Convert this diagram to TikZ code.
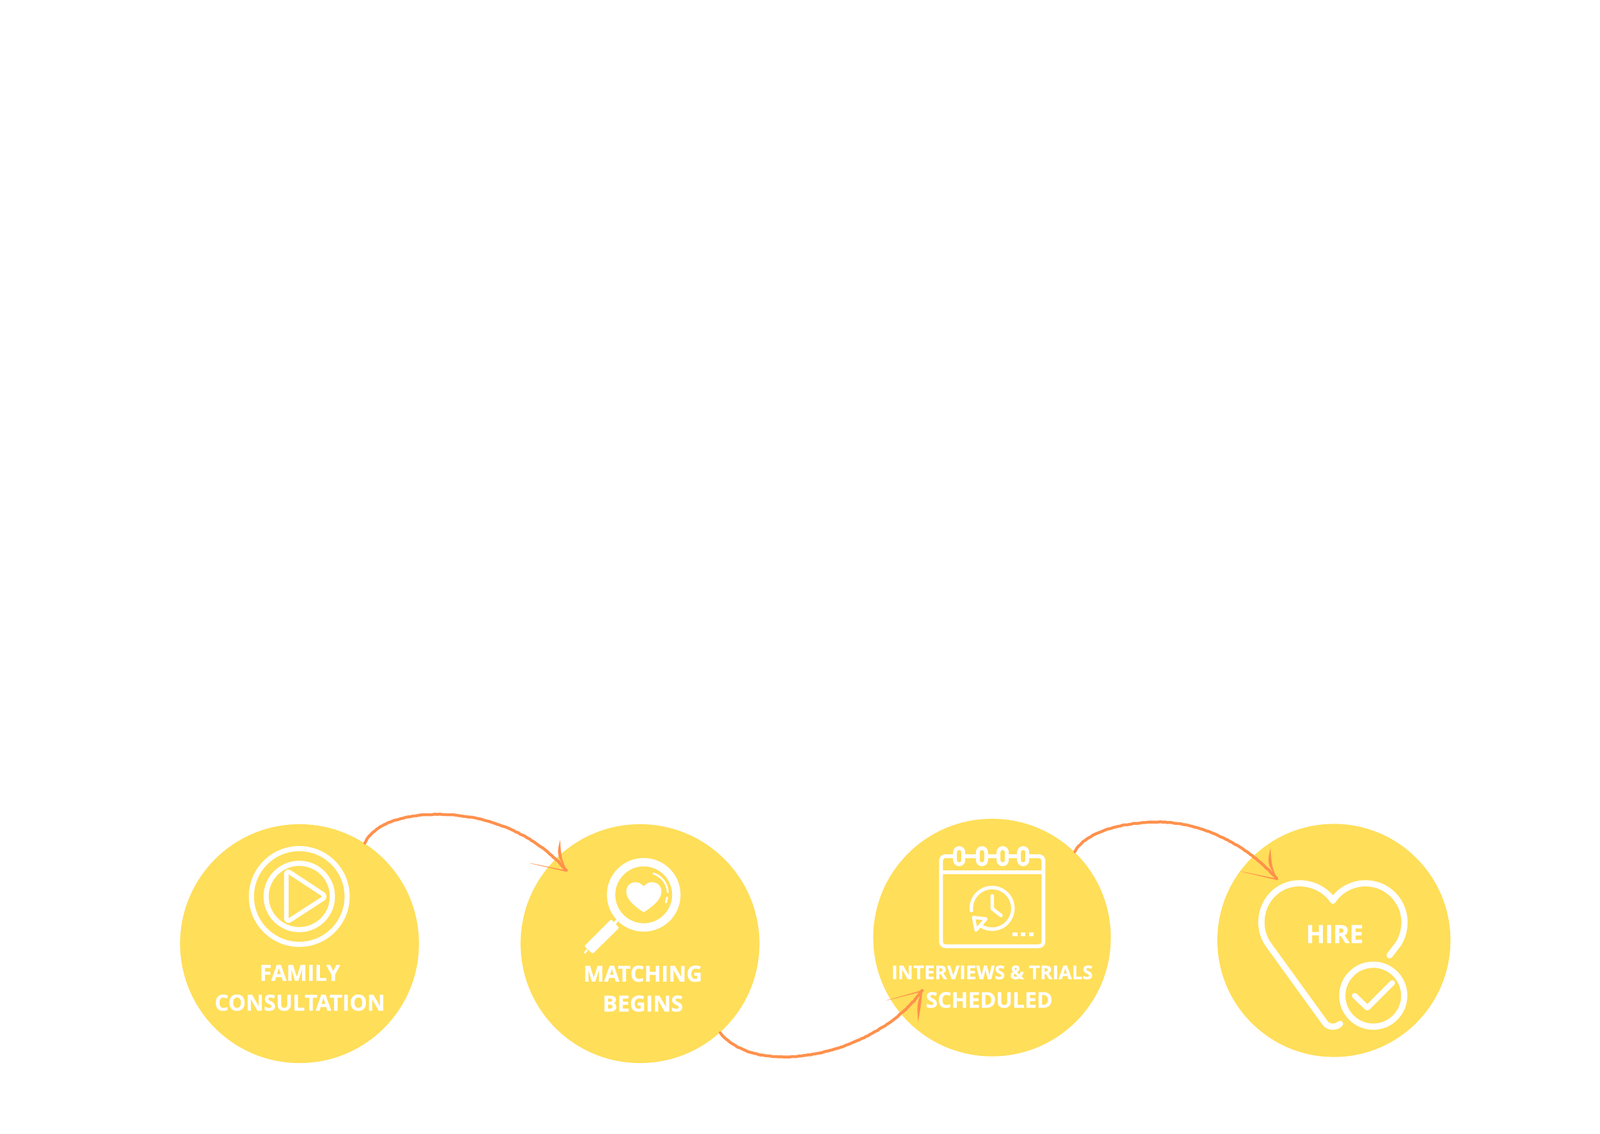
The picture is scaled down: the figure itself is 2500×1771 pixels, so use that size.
\documentclass[tikz,border=0pt]{standalone}
\usepackage{fontspec}
\setmainfont{Open Sans}
\newfontfamily\stepfont{Open Sans}[BoldFeatures={FakeBold=0.8}]
\usetikzlibrary{decorations.pathmorphing}
\definecolor{discyellow}{HTML}{FFDE59}
\definecolor{pencilorange}{HTML}{FF914D}
\tikzset{
  stepdisc/.style={circle,fill=discyellow,inner sep=0pt},
  steptext/.style={text=white,font=\stepfont\bfseries\fontsize{#1}{12}\selectfont,inner sep=0pt},
  steptext/.default=9.8,
  icon/.style={draw=white,line cap=round,line join=round,line width=0.08cm},
  pencil/.style={draw=pencilorange,line width=0.045cm,line cap=round,
    decorate,decoration={random steps,segment length=1pt,amplitude=0.12pt}},
  barb/.style={fill=pencilorange,draw=pencilorange,line width=0.002cm}
}
\newcommand{\barbhead}[5]{%
  \fill[barb] (#1) .. controls +(#4) .. ++(#2) .. controls +(#5) .. (#1);
  \fill[barb] (#1) -- +(#3) -- +(0,1.8) -- cycle;
}
\begin{document}
\begin{tikzpicture}[x=0.01cm,y=-0.01cm]
  \useasboundingbox (0,-1.5) rectangle (2500,1769.5);
  \node[stepdisc,minimum size=3.73cm] (family) at (468,1473) {};
  \node[stepdisc,minimum size=3.73cm] (matching) at (1000,1473) {};
  \node[stepdisc,minimum size=3.71cm] (interviews) at (1550,1463.5) {};
  \node[stepdisc,minimum size=3.64cm] (hire) at (2084.2,1468) {};

  \node[steptext] (familya) at (468.5,1518.7) {FAMILY};
  \node[steptext] (familyb) at (468.5,1565.3) {CONSULTATION};
  \node[steptext] (matchinga) at (1004.5,1520) {MATCHING};
  \node[steptext] (matchingb) at (1004.5,1566.7) {BEGINS};
  \node[steptext=8.4] (interviewsa) at (1550.3,1518) {INTERVIEWS \& TRIALS};
  \node[steptext=9.6] (interviewsb) at (1545.7,1561) {SCHEDULED};
  \node[steptext=11] (hirea) at (2085.5,1458) {HIRE};

  \begin{scope}[icon]
    \draw (467.6,1399.3) circle[radius=74.8];
    \draw (467.6,1399.3) circle[radius=51.8];
    \draw[rounded corners=0.07cm,line width=0.07cm] (447.3,1358) -- (510,1399.3) -- (447.3,1440) -- cycle;
  \end{scope}

  \begin{scope}[icon]
    \draw[line width=0.13cm,line cap=butt] (1005.8,1396.7) circle[radius=51];
    \draw[line width=0.04cm] (964,1437) -- (960,1442);
    \fill[white,rounded corners=0.02cm] (954.9,1435) -- (967.4,1448.3) -- (925.9,1489) -- (913,1476.7) -- cycle;
    \draw[line width=0.03cm] (917,1483) -- (913.8,1487.3);
    \fill[white] (1005.8,1383.3) .. controls (1010,1379) and (1014,1377) .. (1018.8,1377)
      .. controls (1027,1377) and (1033.5,1383) .. (1033.5,1391.7)
      .. controls (1033.5,1405) and (1018,1416) .. (1005.8,1424)
      .. controls (993.6,1416) and (978.6,1405) .. (978.6,1391.7)
      .. controls (978.6,1383) and (985,1377) .. (992.8,1377)
      .. controls (997.6,1377) and (1001.6,1379) .. (1005.8,1383.3) -- cycle;
    \draw[line width=0.03cm] (1021,1363.3) .. controls (1034,1368) and (1043,1379) .. (1043.3,1392.7);
    \draw[line width=0.03cm] (1042.4,1400.7) -- (1040.6,1408.7);
  \end{scope}

  \begin{scope}[icon,line width=0.06cm]
    \draw[rounded corners=0.07cm] (1470.3,1336.3) rectangle (1630.3,1477);
    \draw (1470.3,1361.7) -- (1630.3,1361.7);
    \foreach \ringx in {1498.7,1534.3,1566.7,1598.7}
      \draw[fill=discyellow,rounded corners=0.065cm] (\ringx-6.5,1323.7) rectangle (\ringx+6.5,1349);
    \draw[line width=0.055cm] (1517.8,1421.3) arc[start angle=174,end angle=481,radius=32.5];
    \draw[line width=0.055cm] (1550.3,1398.3) -- (1550.3,1418.3) -- (1564,1429);
    \draw[line width=0.05cm] (1521,1432) -- (1540.7,1434.3) -- (1525,1452) -- cycle;
    \foreach \dotx in {1582.3,1595,1607.7}
      \fill[white] (\dotx,1455) rectangle (\dotx+7.2,1461.7);
  \end{scope}

  \begin{scope}[icon,line width=0.097cm,xshift=0.015cm]
    \draw (2092.4,1598.3) .. controls (2088,1602) and (2085,1602.7) .. (2081.2,1602.7)
      .. controls (2076,1602.7) and (2072,1601) .. (2069.2,1597.3) -- (1980,1474)
      .. controls (1973,1464) and (1969.4,1452) .. (1969.4,1440)
      .. controls (1969.4,1406) and (1995,1378.7) .. (2028.8,1378.7)
      .. controls (2050,1378.7) and (2070,1389) .. (2081.2,1405.7)
      .. controls (2092,1389) and (2112,1378.7) .. (2131.6,1378.7)
      .. controls (2166,1378.7) and (2193,1406) .. (2193,1440)
      .. controls (2193,1452) and (2189,1465) .. (2183,1474) -- (2169.7,1491.3);
    \draw (2144.2,1554.3) circle[radius=48.4];
    \draw[line width=0.085cm] (2115,1554.3) -- (2134.9,1573.3) -- (2174,1534.3);
  \end{scope}

  \coordinate (tipmatching) at (885,1358.7);
  \coordinate (tipinterviews) at (1441,1546);
  \coordinate (tiphire) at (1995,1371.7);

  \draw[pencil] (family.57.5) .. controls (585,1285) and (630,1271) .. (684,1271)
    .. controls (760,1271) and (835,1300) .. (tipmatching);
  \barbhead{tipmatching}{-10,-47}{-57,-11.4}{-8,-20}{-5,22}
  \draw[pencil] (matching.312.4) .. controls (1150,1642) and (1190,1650) .. (1224,1650)
    .. controls (1310,1650) and (1400,1605) .. (tipinterviews);
  \barbhead{tipinterviews}{-6.7,48}{-56,15.7}{-8,20}{4,-20}
  \draw[pencil] (interviews.46) .. controls (1695,1300) and (1750,1283) .. (1810,1283)
    .. controls (1880,1283) and (1950,1320) .. (tiphire);
  \barbhead{tiphire}{-10,-46.7}{-56.5,-11.7}{-8,-20}{-5,22}
\end{tikzpicture}
\end{document}
